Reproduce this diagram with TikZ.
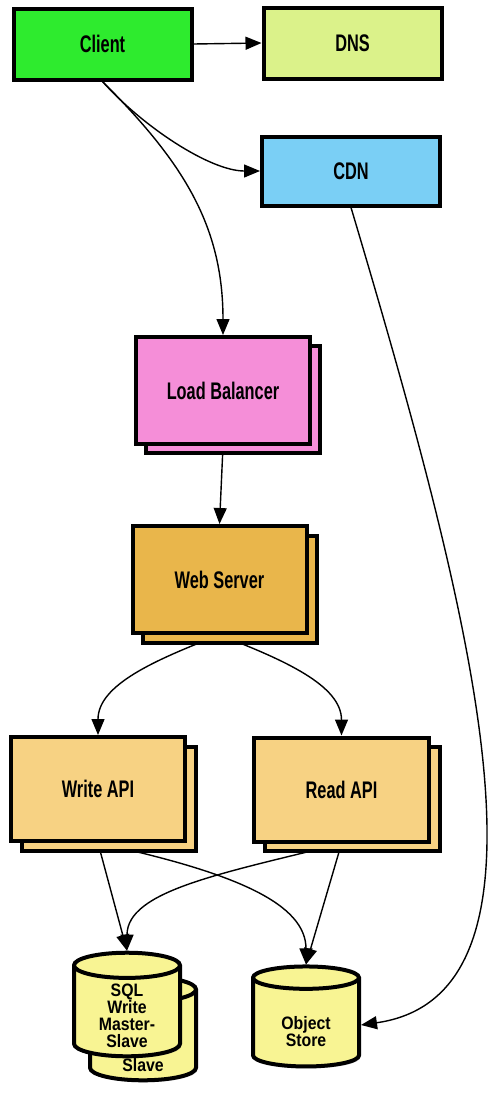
\documentclass[tikz,border=0pt]{standalone}
\usepackage{fontspec}
\newfontfamily\sketchfont[FakeStretch=0.68]{Liberation Sans}
\newfontfamily\dbfont[FakeStretch=0.88]{Liberation Sans}
\usetikzlibrary{arrows.meta,shapes.geometric,shadows,backgrounds}
\definecolor{clientgreen}{HTML}{2EEB2E}
\definecolor{dnsgreen}{HTML}{DBF28A}
\definecolor{cdnblue}{HTML}{7ACFF5}
\definecolor{lbpink}{HTML}{F58ED8}
\definecolor{wsgold}{HTML}{E9B64B}
\definecolor{apitan}{HTML}{F7D283}
\definecolor{dbyellow}{HTML}{F8F493}
\tikzset{
  box/.style={draw, line width=4pt, minimum width=178pt, minimum height=71pt,
    font=\sketchfont\bfseries\fontsize{24}{26}\selectfont,
    drop shadow={shadow xshift=1.5pt, shadow yshift=-2pt, opacity=0.3}},
  db/.style={draw, line width=4pt, cylinder, shape border rotate=90, aspect=0.4,
    minimum width=106pt, minimum height=100pt, fill=dbyellow, align=center,
    inner ysep=0pt, font=\dbfont\bfseries\fontsize{18}{17}\selectfont,
    drop shadow={shadow xshift=1.5pt, shadow yshift=-2pt, opacity=0.3}},
  conn/.style={line width=1.4pt, -{Triangle[length=16pt,width=13pt]}}
}
\begin{document}
\begin{tikzpicture}[x=1pt,y=-1pt]
\useasboundingbox (0,0) rectangle (488,1098);
\node[box, fill=clientgreen] (client) at (102.5,44) {Client};
\node[box, fill=dnsgreen] (dns) at (352.5,43) {DNS};
\node[box, fill=cdnblue, minimum height=69pt] (cdn) at (351,171) {CDN};
\node[box, fill=lbpink, minimum width=174pt, minimum height=107pt] (lb2) at (233,399.5) {};
\node[box, fill=lbpink, minimum width=174pt, minimum height=107pt] (lb) at (223,390.5) {Load Balancer};
\node[box, fill=wsgold, minimum width=174pt, minimum height=107pt] (ws2) at (229.5,589.5) {};
\node[box, fill=wsgold, minimum width=174pt, minimum height=107pt] (ws) at (219.5,579.5) {Web Server};
\node[box, fill=apitan, minimum width=174pt, minimum height=104pt] (wapi2) at (109,799) {};
\node[box, fill=apitan, minimum width=174pt, minimum height=104pt] (wapi) at (98,789) {Write API};
\node[box, fill=apitan, minimum width=175pt, minimum height=104pt] (rapi2) at (352.5,798.5) {};
\node[box, fill=apitan, minimum width=175pt, minimum height=104pt] (rapi) at (341.5,789.5) {Read API};
\node[db] (sql2) at (143,1038) {\rule{0pt}{17pt}\phantom{SQL}\\\phantom{Write}\\\phantom{Master-}\\Slave};
\node[db] (sql) at (127,1014) {\rule{0pt}{17pt}SQL\\Write\\Master-\\Slave};
\node[db] (obj) at (306,1025) {\rule{0pt}{26pt}Object\\Store};
\begin{scope}[on background layer]
\draw[conn] (client.east) -- (dns.west);
\draw[conn] (client.south) .. controls +(40,45) and +(-50,0) .. (cdn.west);
\draw[conn] (client.south) .. controls +(80,80) and +(0,-110) .. (lb.north);
\draw[conn] (cdn.south) .. controls +(123,413) and +(210,-30) .. (obj.east);
\draw[conn] (lb.south) -- (ws.north);
\draw[conn] (ws.south) .. controls +(-65,25) and +(0,-50) .. (wapi.north);
\draw[conn] (ws.south) .. controls +(65,25) and +(0,-50) .. (rapi.north);
\draw[conn] (wapi.south) -- (sql.north);
\draw[conn] (wapi.south) .. controls +(140,30) and +(0,-60) .. (obj.north);
\draw[conn] (rapi.south) .. controls +(-120,30) and +(0,-60) .. (sql.north);
\draw[conn] (rapi.south) -- (obj.north);
\end{scope}
\end{tikzpicture}
\end{document}
